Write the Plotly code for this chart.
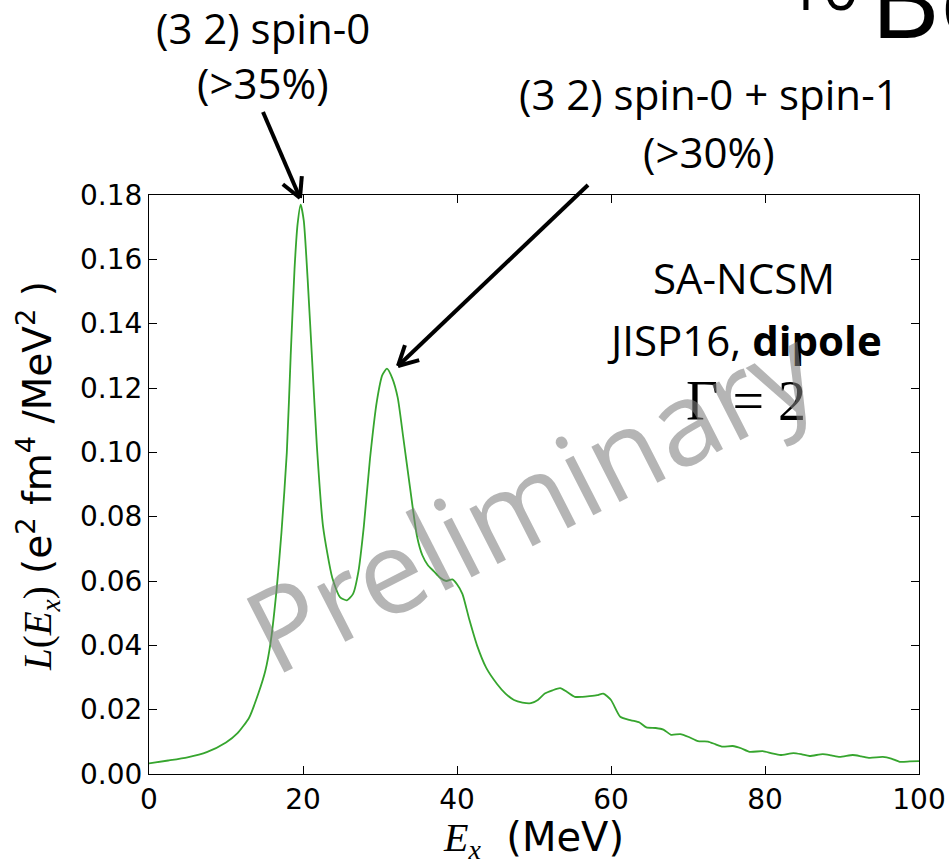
import plotly.graph_objects as go
import math

# ---- data ----
energy_mev = [0, 2.5, 5, 7.5, 10, 11.5, 13, 14.2, 15.1, 15.8, 16.6, 17.2, 17.9, 18.4, 18.9, 19.3, 19.7,
              20.1, 20.6, 21.2, 21.8, 22.6, 23.8, 24.8, 25.7, 26.5, 27.2, 27.9, 28.7, 29.6, 30.3, 30.9,
              31.6, 32.3, 33.0, 33.9, 34.8, 35.5, 36.2, 37.0, 37.8, 38.6, 39.4, 40.0, 40.7, 41.6, 42.6,
              43.8, 45.2, 46.3, 47.4, 48.5, 49.6, 50.5, 51.4, 52.4, 53.4, 54.3, 55.3, 56.3, 57.2, 58.2,
              59.0, 60.0, 61.2, 62.6, 63.7, 64.6, 65.8, 66.8, 67.8, 69.0, 70.1, 71.3, 72.6, 73.6, 74.5,
              75.8, 76.9, 78.0, 79.7, 80.9, 82.0, 83.7, 84.8, 85.8, 87.5, 88.6, 89.7, 91.4, 92.5, 93.6,
              95.3, 96.4, 97.5, 98.8, 100]
strength = [0.0033, 0.0042, 0.0052, 0.0068, 0.0098, 0.0127, 0.0175, 0.025, 0.032, 0.041, 0.058, 0.075,
            0.100, 0.130, 0.157, 0.171, 0.177, 0.172, 0.154, 0.128, 0.102, 0.077, 0.061, 0.055, 0.054,
            0.056, 0.063, 0.077, 0.098, 0.116, 0.124, 0.126, 0.123, 0.117, 0.105, 0.089, 0.074, 0.068,
            0.065, 0.063, 0.061, 0.060, 0.0605, 0.059, 0.056, 0.048, 0.040, 0.033, 0.028, 0.025, 0.023,
            0.0222, 0.022, 0.023, 0.025, 0.026, 0.0267, 0.0255, 0.024, 0.024, 0.0242, 0.0245, 0.025,
            0.023, 0.0178, 0.0167, 0.0160, 0.0145, 0.0143, 0.0138, 0.0122, 0.0124, 0.0115, 0.0102,
            0.0101, 0.0092, 0.0085, 0.0087, 0.0080, 0.0069, 0.0071, 0.0064, 0.0059, 0.0065, 0.0061,
            0.0056, 0.0062, 0.0058, 0.0053, 0.0059, 0.0055, 0.0050, 0.0053, 0.0048, 0.0038, 0.0039,
            0.0040]
x_ticks = [0, 20, 40, 60, 80, 100]
y_ticks = [0.00, 0.02, 0.04, 0.06, 0.08, 0.10, 0.12, 0.14, 0.16, 0.18]

W, H = 949, 868
L, R, T, B = 149, 919, 195, 774


def pp(px, py):
    return (px - L) / (R - L), (B - py) / (B - T)


fig = go.Figure()
fig.add_trace(go.Scatter(x=energy_mev, y=strength, mode="lines",
                         line=dict(color="#36a52e", width=1.8, shape="spline", smoothing=0.6),
                         hoverinfo="skip", showlegend=False))

tickfont = dict(family="DejaVu Sans", size=28, color="black")
fig.update_xaxes(range=[0, 100], tickvals=x_ticks, ticktext=[str(v) for v in x_ticks],
                 ticks="inside", ticklen=8, tickwidth=1, tickcolor="black", automargin=False,
                 showline=True, linecolor="black", linewidth=1.2, mirror="ticks",
                 showgrid=False, zeroline=False, tickfont=tickfont)
fig.update_yaxes(range=[0, 0.18], tickvals=y_ticks, ticktext=[f"{v:.2f}" for v in y_ticks],
                 ticks="inside", ticklen=8, tickwidth=1, tickcolor="black", automargin=False,
                 showline=True, linecolor="black", linewidth=1.2, mirror="ticks",
                 showgrid=False, zeroline=False, tickfont=tickfont)

ann = []


def text(px, py, s, size=42, family="Open Sans", xanchor="center", angle=0, color="black"):
    x, y = pp(px, py)
    ann.append(dict(x=x, y=y, xref="paper", yref="paper", text=s, showarrow=False,
                    xanchor=xanchor, yanchor="middle", textangle=angle,
                    font=dict(family=family, size=size, color=color)))


serif = "font-family:'Liberation Serif'"
text(38, 476,
     f"<span style=\"{serif}\"><i>L</i>(<i>E<sub>x</sub></i>)</span> (e<sup>2</sup> fm<sup>4</sup> /MeV<sup>2</sup> )",
     size=39, family="DejaVu Sans", angle=-90)
text(533, 839, f"<span style=\"{serif}\"><i>E<sub>x</sub></i></span>  (MeV)", size=40, family="DejaVu Sans")

text(263, 28, "(3 2) spin-0")
text(263, 82, "(&gt;35%)")
text(709, 93, "(3 2) spin-0 + spin-1")
text(709, 151, "(&gt;30%)")
text(744, 277, "SA-NCSM")
text(744, 339, "JISP16, <b>dipole</b>")
text(746, 401, "Γ = 2", size=56, family="Liberation Serif")
text(822, -14, "10", size=64)
text(868, -3, "Be", size=108, xanchor="left")
text(530, 497, "Preliminary", size=116, angle=-27, color="rgba(128,128,128,0.58)")

shapes = []


def arrow(tail, tip, head=22, spread=28):
    tx, ty = tail
    hx, hy = tip
    ang = math.atan2(ty - hy, tx - hx)
    segs = [(tail, tip)]
    for s in (-1, 1):
        a = ang + s * math.radians(spread)
        segs.append((tip, (hx + head * math.cos(a), hy + head * math.sin(a))))
    for (p0, p1) in segs:
        x0, y0 = pp(*p0)
        x1, y1 = pp(*p1)
        shapes.append(dict(type="line", xref="paper", yref="paper", x0=x0, y0=y0, x1=x1, y1=y1,
                           line=dict(color="black", width=4), layer="above"))


arrow((263, 112), (300, 198))
arrow((588, 185), (398, 366))

fig.update_layout(width=W, height=H, autosize=False,
                  margin=dict(l=L, r=W - R, t=T, b=H - B, pad=0, autoexpand=False),
                  paper_bgcolor="white", plot_bgcolor="white",
                  annotations=ann, shapes=shapes)

fig.write_html("out.html", config={"displayModeBar": False},
               post_script="document.body.style.margin='0px';document.body.style.overflow='hidden';")
